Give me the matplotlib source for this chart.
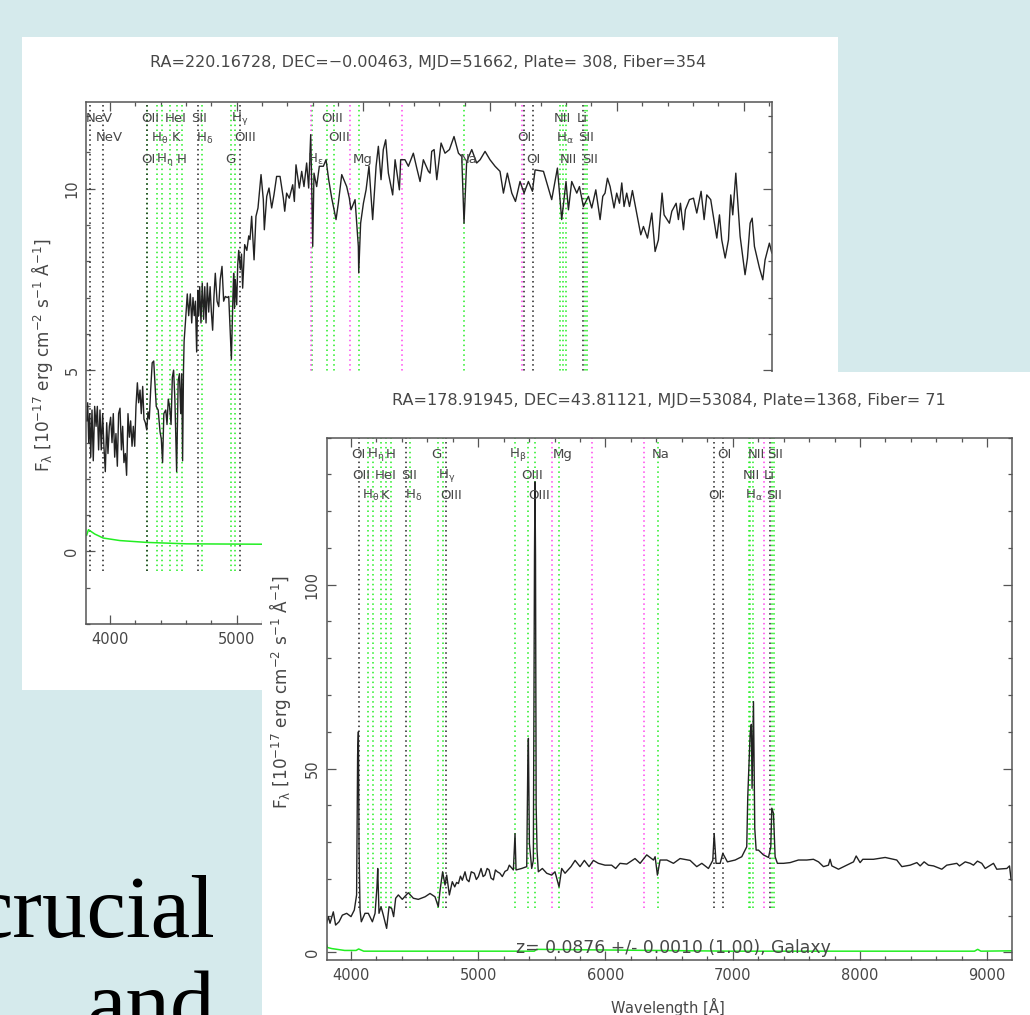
import matplotlib
matplotlib.use('Agg')
from matplotlib import pyplot as plt
from matplotlib.patches import Rectangle
from matplotlib.ticker import MultipleLocator

W, H = 1030, 1015
TEAL = '#d5eaec'
TXT = '#474747'

# back spectrum (RA=220)
back_wave = [3816, 3824, 3832, 3840, 3848, 3858, 3868, 3879, 3890, 3900, 3910, 3921, 3931, 3942, 3952, 3963,
             3974, 3984, 3995, 4005, 4016, 4026, 4037, 4047, 4058, 4068, 4079, 4090, 4100, 4110, 4121, 4131,
             4142, 4153, 4163, 4174, 4184, 4195, 4205, 4216, 4226, 4237, 4247, 4258, 4268, 4279, 4290, 4300,
             4310, 4321, 4333, 4345, 4365, 4380, 4395, 4405, 4415, 4425, 4440, 4450, 4460, 4470, 4482, 4492,
             4502, 4512, 4526, 4538, 4548, 4558, 4566, 4573, 4580, 4585,
             4595, 4610, 4621, 4634, 4645, 4655, 4665, 4674, 4684, 4693,
             4700, 4708, 4718, 4728, 4739, 4748, 4758, 4768, 4779, 4790,
             4800, 4810, 4820, 4831, 4845, 4858, 4870, 4884, 4897, 4910,
             4925, 4937, 4947, 4958, 4970, 4976, 4983, 4989, 5000, 5008,
             5016, 5029, 5038, 5047, 5063, 5080, 5095,
             5105, 5118, 5137, 5152, 5168, 5192, 5210, 5218, 5237, 5255,
             5276, 5294, 5315, 5342, 5368, 5379, 5394, 5415, 5442, 5455,
             5468, 5494, 5513, 5531, 5552, 5568, 5584, 5592, 5600, 5610,
             5631, 5652, 5684, 5705, 5726, 5750, 5784, 5802, 5829, 5868,
             5889, 5902, 5934, 5960, 5963, 5978, 6000, 6021, 6044, 6073,
             6100, 6118, 6139, 6157, 6176, 6197, 6231, 6250, 6284, 6294,
             6328, 6355, 6394, 6421, 6447, 6473, 6513,
             6526, 6539, 6558, 6579, 6613, 6644, 6679, 6715, 6750, 6776,
             6794, 6815, 6855, 6894, 6921, 6960, 6999, 7039, 7078, 7105,
             7136, 7171, 7200, 7236, 7268, 7302, 7334, 7355, 7421, 7486,
             7531, 7565, 7599, 7618, 7644, 7684, 7705, 7736, 7776, 7802,
             7834, 7868, 7889, 7907, 7926, 7947, 7978, 7999, 8021, 8039,
             8057, 8078, 8100, 8123, 8152, 8189, 8210, 8242, 8276, 8302,
             8328, 8357, 8373, 8415, 8434, 8468, 8486, 8502, 8526, 8541,
             8573, 8605, 8631, 8665, 8689, 8710, 8741, 8789, 8810, 8828,
             8855, 8881, 8899, 8915, 8939, 8973, 9012, 9031, 9052, 9068,
             9086, 9126, 9152, 9170, 9204, 9223]
back_flux = [3.6, 4.1, 3.0, 3.8, 2.6, 3.9, 2.5, 4.0, 3.45, 4.0, 2.8, 3.9, 2.8, 3.8, 2.9, 2.2,
             3.55, 2.7, 3.45, 3.7, 3.0, 3.8, 2.6, 3.25, 2.35, 3.8, 3.95, 2.8, 3.45, 2.45, 2.7, 2.1,
             3.8, 3.15, 3.6, 2.9, 3.45, 2.9, 4.0, 4.65, 4.1, 4.45, 3.8, 4.55, 3.65, 3.55, 3.35, 3.85,
             3.65, 4.45, 5.2, 5.25, 4.0, 3.9, 3.3, 3.1, 2.45, 3.8, 3.9, 3.5, 4.2, 4.0, 3.5, 4.8,
             5.0, 4.2, 2.2, 4.7, 4.9, 3.8, 4.9, 2.5, 5.0, 5.8,
             6.3, 7.1, 6.5, 7.1, 6.3, 7.0, 6.5, 6.9, 5.5, 7.2,
             6.5, 7.3, 6.3, 7.4, 6.4, 7.3, 6.3, 7.4, 6.6, 7.3,
             6.6, 6.1, 7.0, 7.67, 6.9, 6.75, 7.5, 7.86, 6.9, 7.03,
             7.0, 7.03, 6.2, 5.3, 7.0, 7.67, 6.7, 7.5, 6.8, 7.9,
             8.3, 7.77, 8.2, 7.26, 8.46, 8.3, 8.7,
             8.6, 9.24, 8.04, 9.24, 9.47, 10.39, 9.7, 8.87, 9.79, 10.02,
             9.47, 9.83, 10.34, 10.34, 9.74, 9.38, 9.88, 9.74, 10.11, 9.65,
             10.66, 10.02, 10.48, 10.06, 10.71, 10.02, 11.49, 10.06, 8.41, 10.43,
             10.06, 10.62, 10.62, 10.8, 10.25, 9.74, 9.15, 9.6, 10.39, 10.06,
             9.74, 9.42, 9.7, 8.41, 7.68, 9.05, 9.6, 9.97, 10.62, 9.15,
             10.62, 11.17, 10.25, 11.08, 11.35, 10.43, 9.83, 10.8, 9.97, 10.8,
             10.8, 10.62, 10.98, 10.57, 10.2, 10.8, 10.48,
             10.43, 11.03, 11.08, 10.25, 11.26, 10.98, 11.08, 11.44, 10.98, 10.89,
             9.05, 10.75, 11.08, 10.71, 10.8, 11.03, 10.8, 10.62, 10.48, 9.88,
             10.43, 9.88, 9.65, 10.2, 9.88, 10.2, 9.93, 10.52, 10.48, 9.7,
             10.57, 9.15, 10.2, 9.42, 10.2, 9.88, 10.06, 9.51, 9.79, 9.47,
             9.97, 9.15, 9.79, 9.88, 10.29, 10.06, 9.47, 9.88, 9.6, 10.16,
             9.51, 9.88, 9.51, 9.95, 9.42, 8.73, 8.96, 8.64, 9.33, 8.27,
             8.59, 9.88, 9.28, 9.05, 9.38, 9.6, 9.15, 9.6, 8.87, 9.42,
             9.7, 9.74, 9.33, 9.93, 9.15, 9.83, 9.7, 8.64, 9.28, 8.59,
             8.09, 8.59, 9.83, 9.28, 10.43, 8.69, 7.63, 8.09, 9.05, 9.19,
             8.41, 7.81, 7.49, 8.04, 8.5, 8.23]
back_err_wave = [3816, 3830, 3880, 3947, 4079, 4289, 4605, 5184, 5400]
back_err_flux = [0.45, 0.6, 0.48, 0.37, 0.3, 0.25, 0.21, 0.2, 0.2]

back_black = [3845, 3947, 4292, 4692, 5023, 7265, 7336, 7736]
back_green = [4292, 4371, 4410, 4476, 4529, 4568, 4729, 4955, 4989, 5597, 5713, 5768, 5963, 6797, 7552,
              7573, 7596, 7746, 7762]
back_magenta = [5584, 5897, 6305, 7254]
back_lab_wave = [3805, 4245, 4431, 4637, 4955, 5668, 7504, 7683,
                 3889, 4326, 4484, 4679, 4981, 5721, 7218, 7520, 7691,
                 4245, 4366, 4524, 4910, 5555, 5918, 6762, 7289, 7552, 7723]
back_lab_flux = [11.95] * 8 + [11.4] * 9 + [10.82] * 10
back_lab = ['NeV', 'OII', 'HeI', 'SII', r'H$_\gamma$', 'OIII', 'NII', 'Li',
            'NeV', r'H$_\theta$', 'K', r'H$_\delta$', 'OIII', 'OIII', 'OI', r'H$_\alpha$', 'SII',
            'OI', r'H$_\eta$', 'H', 'G', r'H$_\epsilon$', 'Mg', 'Na', 'OI', 'NII', 'SII']

# front spectrum (RA=178)
front_wave = [3809, 3822, 3835, 3861, 3879, 3906, 3932, 3966, 4000, 4026, 4044, 4052, 4058, 4063, 4071, 4081,
              4110, 4136, 4168, 4189, 4204, 4210, 4220, 4236, 4254, 4280, 4299, 4320, 4335, 4351, 4372, 4403,
              4450, 4490, 4529, 4582, 4621, 4660, 4686, 4700, 4720, 4739, 4752, 4773, 4796, 4815, 4830, 4844,
              4860, 4875, 4896, 4910, 4927, 4945, 4969, 4985, 5001, 5022, 5038, 5053, 5070, 5085, 5100, 5119,
              5135, 5150, 5170, 5189, 5210, 5230, 5244, 5276, 5289, 5297, 5341, 5381, 5389, 5394,
              5402, 5420, 5433, 5437, 5442, 5446, 5450, 5455, 5462, 5472, 5504, 5538, 5577, 5603, 5624, 5635,
              5656, 5682, 5729, 5761, 5800, 5834, 5871, 5905, 5944, 5996, 6048, 6080, 6114, 6167, 6232, 6272,
              6324, 6377, 6390, 6408, 6429, 6482, 6534, 6586, 6665, 6717, 6757, 6809, 6843, 6854, 6869, 6901,
              6922, 6958, 7019, 7071, 7110, 7118, 7137, 7146, 7152, 7163, 7173, 7184, 7202, 7241, 7281, 7299,
              7307, 7320, 7333, 7351, 7399, 7451, 7516, 7582, 7634, 7674, 7713, 7752, 7765, 7779, 7831, 7896,
              7949, 7970, 8001, 8022, 8106, 8198, 8289, 8329, 8394, 8447, 8473, 8504, 8538, 8578, 8643, 8682,
              8761, 8782, 8827, 8866, 8892, 8923, 8957, 8984, 9049, 9075, 9154, 9175, 9188, 9197]
front_flux = [8.0, 9.7, 7.9, 11.0, 7.4, 8.3, 10.1, 10.6, 9.7, 11.5, 15.6, 53.7, 60.0, 28.7, 11.5, 8.3,
              10.6, 10.6, 8.3, 10.6, 17.8, 22.8, 10.6, 12.4, 10.1, 6.5, 12.4, 11.9, 9.7, 14.7, 15.6, 14.4,
              16.2, 14.7, 14.4, 15.1, 16.0, 15.1, 12.4, 16.9, 21.9, 18.3, 21.0, 15.6, 19.2, 17.8, 19.0, 18.7,
              20.7, 19.6, 21.9, 19.8, 19.2, 21.9, 21.5, 19.8, 20.6, 22.8, 20.6, 21.0, 22.8, 22.4, 20.2, 19.7,
              22.4, 21.9, 21.5, 20.6, 22.0, 22.4, 23.7, 22.4, 32.3, 22.4, 22.8, 23.3, 50.0, 58.2,
              29.6, 22.8, 25.0, 60.0, 108.0, 128.0, 108.0, 40.0, 27.8, 21.9, 22.8, 21.5, 21.0, 21.9, 19.2, 17.8,
              22.8, 21.5, 23.3, 25.0, 23.3, 25.0, 23.3, 25.0, 24.2, 23.7, 23.7, 22.8, 24.2, 24.0, 25.5, 24.2,
              26.5, 25.1, 26.0, 21.0, 25.1, 25.1, 24.2, 25.5, 25.0, 23.3, 24.2, 22.8, 25.0, 32.3, 24.2, 24.2,
              26.9, 24.6, 25.1, 26.0, 28.7, 42.3, 59.6, 62.0, 44.6, 68.2, 33.7, 27.8, 27.8, 26.5, 25.8, 28.7,
              39.2, 37.8, 26.0, 24.2, 24.2, 24.4, 25.1, 25.1, 25.3, 24.6, 23.3, 23.7, 25.3, 23.5, 22.6, 23.7,
              24.6, 26.2, 24.4, 25.3, 25.3, 25.8, 25.1, 23.3, 23.7, 24.4, 23.5, 24.6, 23.7, 23.5, 22.6, 23.7,
              24.2, 23.5, 24.6, 24.2, 23.7, 24.8, 24.2, 22.8, 24.2, 22.6, 22.8, 23.5, 19.6, 19.6]
front_err_wave = [3809, 3815, 3850, 3950, 4040, 4060, 4100, 5440, 5460, 7000, 8900, 8925, 8950, 9197]
front_err_flux = [2.0, 1.3, 1.0, 0.5, 0.5, 0.9, 0.3, 0.3, 0.8, 0.3, 0.3, 0.8, 0.3, 0.4]

front_black = [4060, 4430, 4747, 6854, 6922, 7289]
front_green = [4134, 4173, 4233, 4278, 4317, 4466, 4686, 4726, 5292, 5394, 5449, 5632, 6416, 7124, 7137,
               7163, 7307, 7325]
front_magenta = [5577, 5894, 6303, 7247]
front_lab_wave = [4005, 4128, 4272, 4634, 5244, 5582, 6364, 6880, 7118, 7273,
                  4010, 4189, 4393, 4681, 5341, 7076, 7247,
                  4089, 4233, 4424, 4705, 5394, 6804, 7095, 7262]
front_lab_flux = [135.5] * 10 + [129.8] * 7 + [124.2] * 8
front_lab = ['OI', r'H$_\eta$', 'H', 'G', r'H$_\beta$', 'Mg', 'Na', 'OI', 'NII', 'SII',
             'OII', 'HeI', 'SII', r'H$_\gamma$', 'OIII', 'NII', 'Li',
             r'H$_\theta$', 'K', r'H$_\delta$', 'OIII', 'OIII', 'OI', r'H$_\alpha$', 'SII']

ylabel = r'F$_\lambda$ [10$^{-17}$ erg cm$^{-2}$ s$^{-1}$ $\AA^{-1}$]'

plt.rcParams['mathtext.fontset'] = 'dejavusans'
plt.rcParams['mathtext.default'] = 'regular'
plt.rcParams['font.family'] = ['DejaVu Sans']


def px_axes(fig, left, top, right, bottom, z):
    return fig.add_axes([left / W, 1 - bottom / H, (right - left) / W, (bottom - top) / H], zorder=z)


def px_panel(fig, left, top, right, bottom, z):
    fig.add_artist(Rectangle((left / W, 1 - bottom / H), (right - left) / W, (bottom - top) / H,
                             transform=fig.transFigure, fc='white', ec='none', zorder=z))


def style(ax, xlim, ylim, ymajor, yminor):
    ax.set_xlim(xlim)
    ax.set_ylim(ylim)
    ax.xaxis.set_major_locator(MultipleLocator(1000))
    ax.xaxis.set_minor_locator(MultipleLocator(200))
    ax.yaxis.set_major_locator(MultipleLocator(ymajor))
    ax.yaxis.set_minor_locator(MultipleLocator(yminor))
    ax.tick_params(which='major', direction='in', top=True, right=True, length=6.5, width=0.9, color='#555555',
                   labelcolor=TXT, labelsize=10.5)
    ax.tick_params(which='minor', direction='in', top=True, right=True, length=3, width=0.9, color='#555555')
    ax.tick_params(axis='x', which='major', pad=6)
    ax.tick_params(axis='y', which='major', pad=5)
    for lab in ax.get_yticklabels():
        lab.set_rotation(90)
        lab.set_va('center')
    for s in ax.spines.values():
        s.set_color('#555555')
        s.set_linewidth(1.1)


dots = (0, (1, 2.2))

fig = plt.figure(figsize=(W / 100, H / 100), dpi=100, facecolor=TEAL)

fig.text(215 / W, 1 - 937 / H, 'crucial', family='Liberation Serif', fontsize=64, ha='right', va='baseline',
         color='black', zorder=0)
fig.text(215 / W, 1 - 1032 / H, 'and', family='Liberation Serif', fontsize=64, ha='right', va='baseline',
         color='black', zorder=0)

# back panel
px_panel(fig, 22, 37, 838, 690, 1)
ax1 = px_axes(fig, 86.3, 101.7, 772.3, 624, 2)
style(ax1, (3813, 9227), (-2.0, 12.4), 5, 1)
ax1.vlines(back_green, -0.55, 12.4, colors='#22ee22', linestyles=[dots], lw=1.1)
ax1.vlines(back_magenta, -0.55, 12.4, colors='#ff44ee', linestyles=[dots], lw=1.1)
ax1.vlines(back_black, -0.55, 12.4, colors='#222222', linestyles=[dots], lw=1.1)
ax1.plot(back_wave, back_flux, color='#222222', lw=1.0)
ax1.plot(back_err_wave, back_err_flux, color='#22ee22', lw=1.1)
for w, f, t in zip(back_lab_wave, back_lab_flux, back_lab):
    ax1.text(w, f, t, fontsize=9.5, color=TXT, ha='left', va='center', clip_on=False)
ax1.set_ylabel(ylabel, fontsize=12.2, color=TXT)
ax1.yaxis.set_label_coords(-0.0456, 0.515)
fig.text(428 / W, 1 - 63 / H, 'RA=220.16728, DEC=\u22120.00463, MJD=51662, Plate= 308, Fiber=354',
         fontsize=11.5, color=TXT, ha='center', va='center', zorder=2)

# front panel
px_panel(fig, 262, 372, W, H, 3)
ax2 = px_axes(fig, 326.7, 437.7, 1012.3, 960, 4)
style(ax2, (3809, 9197), (-2.1, 140), 50, 10)
ax2.vlines(front_green, 12, 140, colors='#22ee22', linestyles=[dots], lw=1.1)
ax2.vlines(front_magenta, 12, 140, colors='#ff44ee', linestyles=[dots], lw=1.1)
ax2.vlines(front_black, 12, 140, colors='#222222', linestyles=[dots], lw=1.1)
ax2.plot(front_wave, front_flux, color='#222222', lw=1.0)
ax2.plot(front_err_wave, front_err_flux, color='#22ee22', lw=1.1)
for w, f, t in zip(front_lab_wave, front_lab_flux, front_lab):
    ax2.text(w, f, t, fontsize=9.5, color=TXT, ha='left', va='center')
ax2.text(5300, 1.2, 'z= 0.0876 +/- 0.0010 (1.00), Galaxy', fontsize=12.4, color=TXT, ha='left', va='center')
ax2.set_ylabel(ylabel, fontsize=12.2, color=TXT)
ax2.yaxis.set_label_coords(-0.0488, 0.513)
ax2.set_xlabel(r'Wavelength [$\AA$]', fontsize=10.5, color=TXT)
ax2.xaxis.set_label_coords(0.497, -0.067)
fig.text(669 / W, 1 - 400 / H, 'RA=178.91945, DEC=43.81121, MJD=53084, Plate=1368, Fiber= 71',
         fontsize=11.5, color=TXT, ha='center', va='center', zorder=4)

fig.savefig('out.png', dpi=100, facecolor=TEAL)
